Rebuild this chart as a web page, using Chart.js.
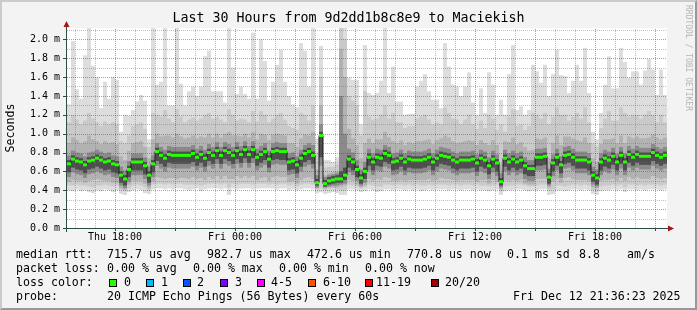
<!DOCTYPE html>
<html>
<head>
<meta charset="utf-8">
<title>Last 30 Hours from 9d2dd1b8c8e9 to Maciekish</title>
<script src="https://cdn.jsdelivr.net/npm/chart.js@4.4.1/dist/chart.umd.min.js"></script>
<style>
  body { margin: 0; background: #ffffff; }
  #graph { position: relative; width: 697px; height: 310px; background: #f3f3f3; overflow: hidden;
           font-family: "DejaVu Sans Mono", monospace; color: #000; }
  #graph canvas { position: absolute; left: 0; top: 0; }
  #frame { position: absolute; left: 0; top: 0; width: 697px; height: 310px; box-sizing: border-box;
           border: 2px solid; border-color: #cbcbcb #999999 #999999 #cbcbcb; pointer-events: none; }
  #title { position: absolute; left: 0; top: 10px; width: 697px; text-align: center; font-size: 13.3px; line-height: 16px; }
  #stamp { position: absolute; left: 684px; top: 5px; writing-mode: vertical-rl; font-size: 8px; line-height: 9px; color: #b4b4b4; }
  .lg { position: absolute; font-size: 11.6px; line-height: 14px; white-space: pre; }
  .sw { position: absolute; top: 279px; width: 6px; height: 6px; border: 1px solid #000; }
</style>
</head>
<body>
<div id="graph">
  <canvas id="chart" width="697" height="310"></canvas>
  <div id="title">Last 30 Hours from 9d2dd1b8c8e9 to Maciekish</div>
  <div id="stamp">RRDTOOL / TOBI OETIKER</div>

  <div class="lg" style="left:16px;top:247px">median rtt:</div>
  <div class="lg" style="left:107px;top:247px">715.7 us avg</div>
  <div class="lg" style="left:207px;top:247px">982.7 us max</div>
  <div class="lg" style="left:307px;top:247px">472.6 us min</div>
  <div class="lg" style="left:407px;top:247px">770.8 us now</div>
  <div class="lg" style="left:507px;top:247px">0.1 ms sd</div>
  <div class="lg" style="left:579px;top:247px">8.8</div>
  <div class="lg" style="left:627px;top:247px">am/s</div>

  <div class="lg" style="left:16px;top:261px">packet loss:</div>
  <div class="lg" style="left:107px;top:261px">0.00 % avg</div>
  <div class="lg" style="left:193px;top:261px">0.00 % max</div>
  <div class="lg" style="left:279px;top:261px">0.00 % min</div>
  <div class="lg" style="left:365px;top:261px">0.00 % now</div>

  <div class="lg" style="left:16px;top:275px">loss color:</div>
  <span class="sw" style="left:109px;background:#26ff00"></span><div class="lg" style="left:124px;top:275px">0</div>
  <span class="sw" style="left:146px;background:#00b8ff"></span><div class="lg" style="left:161px;top:275px">1</div>
  <span class="sw" style="left:183px;background:#0059ff"></span><div class="lg" style="left:197px;top:275px">2</div>
  <span class="sw" style="left:220px;background:#7e00ff"></span><div class="lg" style="left:235px;top:275px">3</div>
  <span class="sw" style="left:257px;background:#ff00ff"></span><div class="lg" style="left:271px;top:275px">4-5</div>
  <span class="sw" style="left:308px;background:#ff5500"></span><div class="lg" style="left:323px;top:275px">6-10</div>
  <span class="sw" style="left:365px;background:#ff0000"></span><div class="lg" style="left:376px;top:275px">11-19</div>
  <span class="sw" style="left:431px;background:#a10000"></span><div class="lg" style="left:445px;top:275px">20/20</div>

  <div class="lg" style="left:16px;top:289px">probe:</div>
  <div class="lg" style="left:107px;top:289px">20 ICMP Echo Pings (56 Bytes) every 60s</div>
  <div class="lg" style="left:513px;top:289px">Fri Dec 12 21:36:23 2025</div>

  <div id="frame"></div>
</div>

<script>
// ---- time axis: 150 steps of 12 minutes, Thu 15:36 -> Fri 21:36 --------------
const stepHours = 0.2;
const xGridHours  = [0.4, 1.4, 2.4, 3.4, 4.4, 5.4, 6.4, 7.4, 8.4, 9.4, 10.4, 11.4, 12.4, 13.4, 14.4,
                     15.4, 16.4, 17.4, 18.4, 19.4, 20.4, 21.4, 22.4, 23.4, 24.4, 25.4, 26.4, 27.4, 28.4, 29.4];
const xMajorHours = [2.4, 5.4, 8.4, 11.4, 14.4, 17.4, 20.4, 23.4, 26.4, 29.4];
const xTickHours  = [2.4, 8.4, 14.4, 20.4, 26.4];
const xTickLabels = ['Thu 18:00', 'Fri 00:00', 'Fri 06:00', 'Fri 12:00', 'Fri 18:00'];

// ---- value axis (milliseconds) -------------------------------------------------
const yTickValues  = [0, 0.2, 0.4, 0.6, 0.8, 1.0, 1.2, 1.4, 1.6, 1.8, 2.0];
const yTickLabels  = ['0.0 m', '0.2 m', '0.4 m', '0.6 m', '0.8 m', '1.0 m', '1.2 m', '1.4 m', '1.6 m', '1.8 m', '2.0 m'];
const yMinorValues = [0.1, 0.3, 0.5, 0.7, 0.9, 1.1, 1.3, 1.5, 1.7, 1.9, 2.1];

// ---- median rtt per step (ms) ---------------------------------------------------
const rttMedian = [
  0.68, 0.73, 0.71, 0.70, 0.67, 0.71, 0.72, 0.74, 0.72, 0.70, 0.71, 0.68, 0.67, 0.56, 0.52, 0.62, 0.70, 0.70, 0.70, 0.66, 0.56, 0.68, 0.81, 0.77, 0.74,
  0.78, 0.77, 0.77, 0.77, 0.77, 0.77, 0.79, 0.75, 0.78, 0.74, 0.80, 0.77, 0.82, 0.77, 0.82, 0.80, 0.77, 0.82, 0.78, 0.83, 0.78, 0.83, 0.75, 0.78, 0.81,
  0.73, 0.81, 0.82, 0.81, 0.81, 0.70, 0.71, 0.67, 0.74, 0.79, 0.81, 0.77, 0.48, 0.98, 0.47, 0.50, 0.51, 0.52, 0.52, 0.56, 0.73, 0.70, 0.62, 0.53, 0.60,
  0.75, 0.70, 0.75, 0.74, 0.79, 0.77, 0.70, 0.71, 0.74, 0.70, 0.73, 0.72, 0.72, 0.72, 0.73, 0.75, 0.70, 0.74, 0.77, 0.76, 0.75, 0.72, 0.70, 0.72, 0.72,
  0.72, 0.73, 0.69, 0.74, 0.72, 0.66, 0.73, 0.69, 0.49, 0.74, 0.70, 0.73, 0.70, 0.72, 0.66, 0.63, 0.63, 0.75, 0.75, 0.76, 0.54, 0.69, 0.75, 0.67, 0.77,
  0.78, 0.75, 0.72, 0.72, 0.72, 0.70, 0.56, 0.53, 0.70, 0.74, 0.72, 0.76, 0.70, 0.77, 0.70, 0.78, 0.75, 0.78, 0.76, 0.76, 0.76, 0.80, 0.77, 0.75, 0.77
];

// ---- smoke: slowest / fastest ping of each step ------------------------------------
const rttMax = [
  1.31, 1.98, 1.47, 1.37, 1.83, 2.12, 1.72, 1.60, 1.27, 1.55, 1.37, 1.60, 1.57, 1.02, 1.20, 1.19, 1.25, 1.34, 1.41, 1.35, 0.94, 2.12, 1.52, 1.55, 2.12,
  1.30, 1.30, 2.12, 1.53, 1.30, 1.45, 1.50, 1.40, 1.50, 1.82, 1.88, 1.45, 1.45, 1.45, 1.33, 2.12, 1.70, 1.42, 1.50, 1.42, 1.37, 2.07, 1.37, 2.00, 1.77,
  1.35, 1.55, 1.73, 1.89, 1.55, 1.40, 1.31, 1.28, 1.96, 1.88, 1.50, 2.12, 0.95, 1.93, 0.72, 0.72, 0.70, 0.75, 2.12, 2.12, 1.59, 1.57, 1.57, 1.10, 1.94,
  1.43, 1.41, 1.43, 1.56, 2.12, 1.43, 1.71, 1.34, 1.34, 1.20, 1.21, 1.21, 1.50, 1.56, 1.63, 1.45, 1.36, 1.36, 1.27, 1.96, 1.71, 1.52, 1.50, 1.40, 1.50,
  1.65, 1.33, 1.20, 1.48, 1.22, 1.65, 1.52, 1.20, 1.36, 1.20, 1.63, 1.94, 1.25, 1.29, 1.20, 1.25, 1.73, 1.66, 1.54, 1.73, 1.40, 1.63, 1.89, 1.62, 1.61,
  1.43, 1.56, 1.73, 1.56, 1.91, 1.43, 1.02, 0.94, 1.22, 1.52, 1.82, 1.48, 1.48, 1.91, 1.76, 1.59, 1.66, 1.66, 1.52, 1.67, 1.79, 1.68, 1.41, 1.68, 1.41
];
const rttMin = [
  0.40, 0.39, 0.41, 0.39, 0.40, 0.38, 0.37, 0.40, 0.39, 0.41, 0.40, 0.38, 0.40, 0.36, 0.35, 0.38, 0.40, 0.41, 0.40, 0.37, 0.36, 0.41, 0.42, 0.42, 0.41,
  0.42, 0.41, 0.42, 0.42, 0.41, 0.40, 0.41, 0.42, 0.39, 0.41, 0.42, 0.42, 0.42, 0.41, 0.42, 0.35, 0.42, 0.41, 0.42, 0.42, 0.42, 0.41, 0.42, 0.42, 0.42,
  0.42, 0.42, 0.41, 0.42, 0.42, 0.40, 0.41, 0.40, 0.41, 0.42, 0.42, 0.41, 0.37, 0.38, 0.36, 0.37, 0.38, 0.37, 0.35, 0.35, 0.41, 0.41, 0.40, 0.38, 0.39,
  0.41, 0.40, 0.38, 0.39, 0.41, 0.41, 0.40, 0.41, 0.41, 0.40, 0.41, 0.40, 0.41, 0.39, 0.40, 0.41, 0.40, 0.41, 0.41, 0.41, 0.40, 0.41, 0.41, 0.40, 0.41,
  0.41, 0.40, 0.41, 0.40, 0.40, 0.39, 0.40, 0.41, 0.35, 0.39, 0.40, 0.40, 0.41, 0.41, 0.40, 0.39, 0.40, 0.40, 0.41, 0.41, 0.35, 0.36, 0.40, 0.40, 0.39,
  0.40, 0.41, 0.41, 0.40, 0.41, 0.40, 0.36, 0.35, 0.39, 0.40, 0.40, 0.41, 0.40, 0.41, 0.38, 0.41, 0.41, 0.40, 0.41, 0.40, 0.41, 0.41, 0.41, 0.40, 0.41
];

// ---- smoke: 2nd slowest / 2nd fastest ping ----------------------------------------
const rttHigh = [
  1.12, 1.20, 1.15, 1.10, 1.14, 1.22, 1.16, 1.12, 1.08, 1.13, 1.10, 1.12, 1.10, 0.92, 0.90, 0.98, 1.08, 1.10, 1.12, 1.05, 0.86, 1.22, 1.20, 1.18, 1.25,
  1.16, 1.12, 1.26, 1.18, 1.12, 1.15, 1.17, 1.14, 1.16, 1.20, 1.22, 1.16, 1.18, 1.15, 1.12, 1.26, 1.20, 1.14, 1.16, 1.15, 1.12, 1.24, 1.13, 1.24, 1.20,
  1.12, 1.16, 1.20, 1.22, 1.15, 1.08, 1.06, 1.04, 1.22, 1.20, 1.14, 1.30, 0.80, 1.60, 0.64, 0.65, 0.65, 0.68, 2.12, 2.00, 1.40, 1.35, 1.30, 0.98, 1.45,
  1.18, 1.15, 1.16, 1.20, 1.30, 1.16, 1.22, 1.12, 1.12, 1.06, 1.08, 1.08, 1.16, 1.18, 1.20, 1.15, 1.10, 1.12, 1.10, 1.28, 1.22, 1.16, 1.15, 1.10, 1.15,
  1.20, 1.10, 1.05, 1.14, 1.06, 1.20, 1.16, 1.04, 1.10, 1.02, 1.18, 1.26, 1.08, 1.10, 1.04, 1.08, 1.22, 1.20, 1.16, 1.22, 1.10, 1.18, 1.28, 1.20, 1.20,
  1.14, 1.18, 1.22, 1.16, 1.28, 1.12, 0.90, 0.86, 1.06, 1.16, 1.24, 1.14, 1.14, 1.28, 1.22, 1.18, 1.20, 1.20, 1.16, 1.20, 1.24, 1.20, 1.12, 1.20, 1.12
];
const rttLow = [
  0.45, 0.45, 0.46, 0.45, 0.45, 0.44, 0.43, 0.45, 0.45, 0.46, 0.45, 0.44, 0.45, 0.40, 0.39, 0.42, 0.45, 0.46, 0.45, 0.43, 0.40, 0.46, 0.47, 0.47, 0.46,
  0.47, 0.46, 0.47, 0.47, 0.46, 0.46, 0.46, 0.46, 0.45, 0.46, 0.47, 0.47, 0.47, 0.46, 0.47, 0.43, 0.47, 0.46, 0.47, 0.47, 0.47, 0.46, 0.47, 0.47, 0.47,
  0.46, 0.47, 0.46, 0.47, 0.47, 0.45, 0.46, 0.44, 0.46, 0.47, 0.47, 0.46, 0.41, 0.42, 0.40, 0.41, 0.42, 0.41, 0.40, 0.40, 0.46, 0.45, 0.44, 0.42, 0.43,
  0.46, 0.45, 0.44, 0.44, 0.46, 0.46, 0.45, 0.46, 0.46, 0.45, 0.46, 0.45, 0.46, 0.45, 0.45, 0.46, 0.45, 0.46, 0.46, 0.46, 0.45, 0.46, 0.46, 0.45, 0.46,
  0.46, 0.45, 0.46, 0.45, 0.45, 0.44, 0.45, 0.46, 0.39, 0.44, 0.45, 0.45, 0.46, 0.46, 0.45, 0.44, 0.44, 0.45, 0.46, 0.46, 0.40, 0.41, 0.45, 0.45, 0.44,
  0.45, 0.46, 0.46, 0.45, 0.46, 0.45, 0.40, 0.39, 0.44, 0.45, 0.45, 0.46, 0.45, 0.46, 0.43, 0.46, 0.46, 0.45, 0.46, 0.45, 0.46, 0.46, 0.46, 0.45, 0.46
];

// ---- smoke: outer middle pings -------------------------------------------------------
const rttUpper = [
  0.90, 0.96, 0.93, 0.90, 0.92, 0.98, 0.94, 0.92, 0.89, 0.92, 0.90, 0.91, 0.89, 0.76, 0.72, 0.82, 0.90, 0.91, 0.92, 0.86, 0.74, 0.94, 1.00, 0.97, 0.98,
  0.98, 0.96, 1.00, 0.97, 0.95, 0.96, 0.98, 0.95, 0.97, 0.96, 1.00, 0.96, 1.00, 0.96, 1.00, 1.02, 0.98, 0.98, 0.97, 1.00, 0.96, 1.02, 0.94, 1.00, 0.99,
  0.93, 0.99, 1.00, 0.99, 0.98, 0.90, 0.90, 0.86, 0.95, 0.99, 0.98, 1.02, 0.62, 1.30, 0.56, 0.58, 0.59, 0.60, 1.90, 1.60, 1.05, 0.95, 0.88, 0.74, 0.90,
  0.95, 0.90, 0.94, 0.94, 1.02, 0.96, 0.92, 0.90, 0.93, 0.88, 0.91, 0.90, 0.92, 0.92, 0.93, 0.94, 0.89, 0.93, 0.95, 0.98, 0.96, 0.92, 0.90, 0.91, 0.92,
  0.93, 0.92, 0.88, 0.93, 0.90, 0.88, 0.93, 0.88, 0.68, 0.92, 0.91, 0.96, 0.89, 0.91, 0.86, 0.82, 0.83, 0.95, 0.94, 0.96, 0.74, 0.90, 0.98, 0.88, 0.97,
  0.97, 0.95, 0.93, 0.92, 0.96, 0.90, 0.74, 0.70, 0.89, 0.94, 0.94, 0.95, 0.90, 0.98, 0.90, 0.97, 0.95, 0.97, 0.95, 0.95, 0.96, 0.99, 0.96, 0.94, 0.96
];
const rttLower = [
  0.49, 0.51, 0.50, 0.50, 0.48, 0.50, 0.51, 0.52, 0.51, 0.50, 0.50, 0.48, 0.48, 0.42, 0.41, 0.46, 0.50, 0.50, 0.50, 0.47, 0.42, 0.49, 0.54, 0.53, 0.52,
  0.53, 0.53, 0.52, 0.53, 0.53, 0.52, 0.54, 0.52, 0.53, 0.51, 0.54, 0.52, 0.55, 0.52, 0.55, 0.52, 0.52, 0.55, 0.53, 0.55, 0.53, 0.55, 0.51, 0.53, 0.54,
  0.50, 0.54, 0.55, 0.54, 0.54, 0.49, 0.50, 0.47, 0.51, 0.53, 0.54, 0.52, 0.42, 0.52, 0.42, 0.43, 0.43, 0.43, 0.44, 0.45, 0.51, 0.50, 0.46, 0.43, 0.45,
  0.52, 0.50, 0.52, 0.51, 0.54, 0.53, 0.50, 0.50, 0.51, 0.50, 0.51, 0.51, 0.51, 0.51, 0.51, 0.52, 0.50, 0.51, 0.53, 0.52, 0.52, 0.51, 0.50, 0.51, 0.51,
  0.51, 0.51, 0.49, 0.51, 0.51, 0.47, 0.51, 0.49, 0.41, 0.51, 0.50, 0.51, 0.50, 0.51, 0.47, 0.46, 0.46, 0.52, 0.52, 0.52, 0.43, 0.49, 0.52, 0.48, 0.53,
  0.54, 0.52, 0.51, 0.51, 0.51, 0.50, 0.43, 0.42, 0.50, 0.51, 0.51, 0.52, 0.50, 0.53, 0.50, 0.54, 0.52, 0.54, 0.52, 0.52, 0.52, 0.55, 0.53, 0.52, 0.53
];

// ---- smoke: inner middle pings -------------------------------------------------------
const rttMidHigh = [
  0.77, 0.82, 0.80, 0.79, 0.76, 0.80, 0.81, 0.83, 0.81, 0.79, 0.80, 0.77, 0.76, 0.65, 0.61, 0.71, 0.79, 0.79, 0.79, 0.75, 0.65, 0.77, 0.90, 0.86, 0.83,
  0.87, 0.86, 0.86, 0.86, 0.86, 0.86, 0.88, 0.84, 0.87, 0.83, 0.89, 0.86, 0.91, 0.86, 0.91, 0.89, 0.86, 0.91, 0.87, 0.92, 0.87, 0.92, 0.84, 0.87, 0.90,
  0.82, 0.90, 0.91, 0.90, 0.90, 0.79, 0.80, 0.76, 0.83, 0.88, 0.90, 0.88, 0.56, 1.10, 0.54, 0.56, 0.57, 0.58, 1.40, 1.00, 0.84, 0.80, 0.72, 0.62, 0.70,
  0.84, 0.79, 0.84, 0.83, 0.88, 0.86, 0.79, 0.80, 0.83, 0.79, 0.82, 0.81, 0.81, 0.81, 0.82, 0.84, 0.79, 0.83, 0.86, 0.85, 0.84, 0.81, 0.79, 0.81, 0.81,
  0.81, 0.82, 0.78, 0.83, 0.81, 0.75, 0.82, 0.78, 0.58, 0.83, 0.79, 0.82, 0.79, 0.81, 0.75, 0.72, 0.72, 0.84, 0.84, 0.85, 0.63, 0.78, 0.84, 0.76, 0.86,
  0.87, 0.84, 0.81, 0.81, 0.81, 0.79, 0.65, 0.62, 0.79, 0.83, 0.81, 0.85, 0.79, 0.86, 0.79, 0.87, 0.84, 0.87, 0.85, 0.85, 0.85, 0.89, 0.86, 0.84, 0.86
];
const rttMidLow = [
  0.54, 0.59, 0.57, 0.56, 0.53, 0.57, 0.58, 0.60, 0.58, 0.56, 0.57, 0.54, 0.53, 0.45, 0.42, 0.49, 0.56, 0.56, 0.56, 0.52, 0.45, 0.54, 0.66, 0.63, 0.60,
  0.64, 0.63, 0.63, 0.63, 0.63, 0.63, 0.65, 0.61, 0.64, 0.60, 0.66, 0.63, 0.68, 0.63, 0.68, 0.66, 0.63, 0.68, 0.64, 0.69, 0.64, 0.69, 0.61, 0.64, 0.67,
  0.59, 0.67, 0.68, 0.67, 0.67, 0.56, 0.57, 0.53, 0.60, 0.65, 0.67, 0.63, 0.43, 0.66, 0.43, 0.44, 0.45, 0.45, 0.46, 0.47, 0.59, 0.56, 0.50, 0.45, 0.48,
  0.61, 0.56, 0.61, 0.60, 0.65, 0.63, 0.56, 0.57, 0.60, 0.56, 0.59, 0.58, 0.58, 0.58, 0.59, 0.61, 0.56, 0.60, 0.63, 0.62, 0.61, 0.58, 0.56, 0.58, 0.58,
  0.58, 0.59, 0.55, 0.60, 0.58, 0.52, 0.59, 0.55, 0.43, 0.60, 0.56, 0.59, 0.56, 0.58, 0.52, 0.50, 0.50, 0.61, 0.61, 0.62, 0.45, 0.55, 0.61, 0.53, 0.63,
  0.64, 0.61, 0.58, 0.58, 0.58, 0.56, 0.46, 0.44, 0.56, 0.60, 0.58, 0.62, 0.56, 0.63, 0.56, 0.64, 0.61, 0.64, 0.62, 0.62, 0.62, 0.66, 0.63, 0.61, 0.63
];

// ---- smoke: pings closest to the median ---------------------------------------------
const rttCoreHigh = [
  0.72, 0.77, 0.75, 0.74, 0.71, 0.75, 0.76, 0.78, 0.76, 0.74, 0.75, 0.72, 0.71, 0.60, 0.56, 0.66, 0.74, 0.74, 0.74, 0.70, 0.60, 0.72, 0.85, 0.81, 0.78,
  0.82, 0.81, 0.81, 0.81, 0.81, 0.81, 0.83, 0.79, 0.82, 0.78, 0.84, 0.81, 0.86, 0.81, 0.86, 0.84, 0.81, 0.86, 0.82, 0.87, 0.82, 0.87, 0.79, 0.82, 0.85,
  0.77, 0.85, 0.86, 0.85, 0.85, 0.74, 0.75, 0.71, 0.78, 0.83, 0.85, 0.81, 0.52, 1.02, 0.51, 0.54, 0.55, 0.56, 0.60, 0.64, 0.77, 0.74, 0.66, 0.57, 0.64,
  0.79, 0.74, 0.79, 0.78, 0.83, 0.81, 0.74, 0.75, 0.78, 0.74, 0.77, 0.76, 0.76, 0.76, 0.77, 0.79, 0.74, 0.78, 0.81, 0.80, 0.79, 0.76, 0.74, 0.76, 0.76,
  0.76, 0.77, 0.73, 0.78, 0.76, 0.70, 0.77, 0.73, 0.53, 0.78, 0.74, 0.77, 0.74, 0.76, 0.70, 0.67, 0.67, 0.79, 0.79, 0.80, 0.58, 0.73, 0.79, 0.71, 0.81,
  0.82, 0.79, 0.76, 0.76, 0.76, 0.74, 0.60, 0.57, 0.74, 0.78, 0.76, 0.80, 0.74, 0.81, 0.74, 0.82, 0.79, 0.82, 0.80, 0.80, 0.80, 0.84, 0.81, 0.79, 0.81
];
const rttCoreLow = [
  0.59, 0.64, 0.62, 0.61, 0.58, 0.62, 0.63, 0.65, 0.63, 0.61, 0.62, 0.59, 0.58, 0.48, 0.45, 0.54, 0.61, 0.61, 0.61, 0.57, 0.48, 0.59, 0.71, 0.68, 0.65,
  0.69, 0.68, 0.68, 0.68, 0.68, 0.68, 0.70, 0.66, 0.69, 0.65, 0.71, 0.68, 0.73, 0.68, 0.73, 0.71, 0.68, 0.73, 0.69, 0.74, 0.69, 0.74, 0.66, 0.69, 0.72,
  0.64, 0.72, 0.73, 0.72, 0.72, 0.61, 0.62, 0.58, 0.65, 0.70, 0.72, 0.68, 0.45, 0.75, 0.44, 0.46, 0.47, 0.48, 0.48, 0.51, 0.64, 0.61, 0.54, 0.47, 0.52,
  0.66, 0.61, 0.66, 0.65, 0.70, 0.68, 0.61, 0.62, 0.65, 0.61, 0.64, 0.63, 0.63, 0.63, 0.64, 0.66, 0.61, 0.65, 0.68, 0.67, 0.66, 0.63, 0.61, 0.63, 0.63,
  0.63, 0.64, 0.60, 0.65, 0.63, 0.57, 0.64, 0.60, 0.45, 0.65, 0.61, 0.64, 0.61, 0.63, 0.57, 0.55, 0.55, 0.66, 0.66, 0.67, 0.47, 0.60, 0.66, 0.58, 0.68,
  0.69, 0.66, 0.63, 0.63, 0.63, 0.61, 0.49, 0.46, 0.61, 0.65, 0.63, 0.67, 0.61, 0.68, 0.61, 0.69, 0.66, 0.69, 0.67, 0.67, 0.67, 0.71, 0.68, 0.66, 0.68
];

// ---- chart -------------------------------------------------------------------------
const MONO = "'DejaVu Sans Mono', monospace";
Chart.defaults.font.family = MONO;
Chart.defaults.color = '#000';

const binCenters = rttMedian.map((_, i) => (i + 0.5) * stepHours);
const band = (lo, hi) => lo.map((v, i) => [v, hi[i]]);
const near = (list, v) => list.findIndex(t => Math.abs(t - v) < 1e-6);

const MAJOR_GRID = 'rgba(255,0,0,0.5)';
const MINOR_GRID = 'rgba(110,110,110,0.45)';
const AXIS = '#2c4d43';

const smoke = (lo, hi, color, order) => ({
  type: 'bar',
  data: band(lo, hi),
  backgroundColor: color,
  borderWidth: 0,
  grouped: false,
  barPercentage: 1,
  categoryPercentage: 1,
  inflateAmount: 0,
  order
});

// rrdtool look: white canvas, dotted grid over the smoke, axes with arrow heads
const rrdFrame = {
  id: 'rrdFrame',
  beforeDraw(chart) {
    const { ctx, chartArea: a } = chart;
    ctx.save();
    ctx.fillStyle = '#ffffff';
    ctx.fillRect(a.left, a.top, a.width, a.height);
    ctx.restore();
  },
  afterDatasetDraw(chart, args) {
    if (args.index !== 1) return;          // after the last smoke layer, before the median
    const { ctx, chartArea: a, scales: { x, y } } = chart;
    const hLine = (v, color) => {
      const py = Math.round(y.getPixelForValue(v)) + 0.5;
      ctx.strokeStyle = color;
      ctx.beginPath(); ctx.moveTo(a.left, py); ctx.lineTo(a.right, py); ctx.stroke();
    };
    const vLine = (h, color) => {
      const px = Math.round(x.getPixelForValue(h)) + 0.5;
      ctx.strokeStyle = color;
      ctx.beginPath(); ctx.moveTo(px, a.bottom); ctx.lineTo(px, a.top); ctx.stroke();
    };
    ctx.save();
    ctx.lineWidth = 1;
    ctx.setLineDash([1, 1]);
    yMinorValues.forEach(v => hLine(v, MINOR_GRID));
    xGridHours.filter(h => near(xMajorHours, h) < 0).forEach(h => vLine(h, MINOR_GRID));
    yTickValues.slice(1).forEach(v => hLine(v, MAJOR_GRID));
    xMajorHours.forEach(h => vLine(h, MAJOR_GRID));
    ctx.restore();
  },
  afterDraw(chart) {
    const { ctx, chartArea: a, scales: { x, y } } = chart;
    ctx.save();
    ctx.lineWidth = 1;
    ctx.strokeStyle = AXIS;
    ctx.beginPath();
    yTickValues.forEach(v => {             // tick marks left of the value axis
      const py = Math.round(y.getPixelForValue(v)) + 0.5;
      ctx.moveTo(a.left - 4, py); ctx.lineTo(a.left, py);
    });
    xMajorHours.forEach(h => {             // tick marks under the time axis
      const px = Math.round(x.getPixelForValue(h)) + 0.5;
      ctx.moveTo(px, a.bottom); ctx.lineTo(px, a.bottom + 3);
    });
    ctx.moveTo(a.left - 0.5, a.bottom + 4);
    ctx.lineTo(a.left - 0.5, a.top - 2);
    ctx.moveTo(a.left - 4, a.bottom + 0.5);
    ctx.lineTo(a.right + 2, a.bottom + 0.5);
    ctx.stroke();

    ctx.fillStyle = '#a01818';
    ctx.beginPath();                       // up arrow
    ctx.moveTo(a.left - 0.5, a.top - 7);
    ctx.lineTo(a.left - 3.5, a.top - 1);
    ctx.lineTo(a.left + 2.5, a.top - 1);
    ctx.closePath();
    ctx.fill();
    ctx.beginPath();                       // right arrow
    ctx.moveTo(a.right + 7, a.bottom + 0.5);
    ctx.lineTo(a.right + 1, a.bottom - 2.5);
    ctx.lineTo(a.right + 1, a.bottom + 3.5);
    ctx.closePath();
    ctx.fill();
    ctx.restore();
  }
};

new Chart(document.getElementById('chart'), {
  type: 'bar',
  data: {
    labels: binCenters,
    datasets: [
      {
        type: 'line',
        label: 'median rtt',
        data: rttMedian,
        stepped: 'middle',
        borderColor: '#1a1a1a',
        borderWidth: 1,
        pointStyle: 'line',
        pointRadius: 2,
        pointHoverRadius: 2,
        pointBorderColor: '#26ff00',
        pointBorderWidth: 3,
        order: 0
      },
      smoke(rttCoreLow, rttCoreHigh, '#4e4e4e', 1),
      smoke(rttMidLow, rttMidHigh, '#8a8a8a', 2),
      smoke(rttLower, rttUpper, '#b2b2b2', 3),
      smoke(rttLow, rttHigh, '#cacaca', 4),
      smoke(rttMin, rttMax, '#dddddd', 5)
    ]
  },
  options: {
    responsive: false,
    animation: false,
    devicePixelRatio: 1,
    layout: { padding: { top: 28, right: 30, bottom: 62, left: 0 } },
    plugins: { legend: { display: false }, tooltip: { enabled: false } },
    scales: {
      x: {
        type: 'linear',
        min: 0,
        max: 30,
        offset: false,
        afterBuildTicks: s => { s.ticks = xGridHours.map(v => ({ value: v })); },
        afterFit: s => { s.height = 20; },
        grid: { offset: false, color: 'rgba(0,0,0,0)', tickLength: 3 },
        border: { display: false },
        ticks: {
          autoSkip: false,
          maxRotation: 0,
          padding: 0,
          font: { size: 10 },
          callback: v => { const i = near(xTickHours, v); return i >= 0 ? xTickLabels[i] : ''; }
        }
      },
      y: {
        min: 0,
        max: 2.12,
        afterBuildTicks: s => { s.ticks = yTickValues.map(v => ({ value: v })); },
        afterFit: s => { s.width = 67; },
        grid: { color: 'rgba(0,0,0,0)', tickLength: 4 },
        border: { display: false },
        ticks: {
          autoSkip: false,
          padding: 3,
          font: { size: 10 },
          callback: v => { const i = near(yTickValues, v); return i >= 0 ? yTickLabels[i] : ''; }
        },
        title: {
          display: true,
          text: 'Seconds',
          font: { size: 11.6 },
          padding: { top: 4, bottom: 0 }
        }
      }
    }
  },
  plugins: [rrdFrame]
});
</script>
</body>
</html>
